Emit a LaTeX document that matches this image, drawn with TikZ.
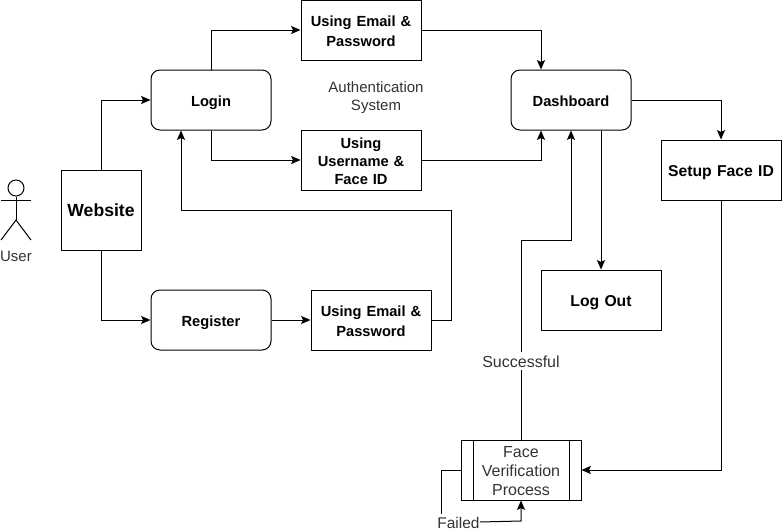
\documentclass[tikz,border=0pt]{standalone}
\usepackage{fontspec}
\setmainfont{Liberation Sans}
\usetikzlibrary{arrows.meta,calc}
\definecolor{plain}{HTML}{333333}
\newcommand{\lowstrut}{\rule[-0.15\baselineskip]{0pt}{\baselineskip}}
\tikzset{
	struts/.style={execute at begin node=\lowstrut, execute at end node=\lowstrut},
	box/.style={draw, line width=0.75pt, minimum width=90pt, minimum height=45pt, align=center, inner sep=0pt, text width=88pt, struts, font=\fontsize{11}{13.5}\selectfont\bfseries},
	roundbox/.style={box, rounded corners=6.75pt},
	plaintext/.style={inner sep=1pt, align=center, text=plain, struts, font=\fontsize{11.25}{13.5}\selectfont},
	conn/.style={line width=0.75pt, -{Stealth[length=7pt, width=6pt, inset=1.3pt]}},
	link/.style={line width=0.75pt}
}
\begin{document}
\begin{tikzpicture}[x=0.75pt, y=-0.75pt]
	\useasboundingbox (0, 0) rectangle (782, 532);
	%%%%% START %%%%%

	\node[box, minimum width=60pt, minimum height=60pt, text width=58pt, font=\fontsize{13.2}{14}\selectfont\bfseries] (website) at (101, 210) {Website};
	\node[roundbox] (login) at (211, 100) {Login};
	\node[roundbox] (register) at (211, 320) {Register};
	\node[box] (emaillogin) at (361, 30) {Using Email \&\\Password};
	\node[box] (facelogin) at (361, 160) {Using\\Username \&\\Face ID};
	\node[box] (emailregister) at (371, 320) {Using Email \&\\Password};
	\node[roundbox] (dashboard) at (571, 100) {Dashboard};
	\node[box, font=\fontsize{11.8}{14}\selectfont\bfseries] (setup) at (721, 170) {Setup Face ID};
	\node[box, font=\fontsize{11.8}{14}\selectfont\bfseries] (logout) at (601, 300) {Log Out};
	\node[box, text width=60pt, font=\fontsize{12}{14.25}\selectfont, text=plain] (verify) at (521, 470) {Face\\Verification\\Process};
	\draw[link] (473, 440) -- (473, 500);
	\draw[link] (569, 440) -- (569, 500);
	\node[plaintext] (system) at (376, 98) {Authentication\\System};

	% the user
	\node[draw, circle, line width=0.75pt, minimum size=12pt, inner sep=0pt] (head) at (16, 188) {};
	\coordinate (hip) at (16, 220);
	\draw[link] (head.south) -- (hip);
	\draw[link] (1, 200) -- (31, 200);
	\draw[link] (1, 240) -- (hip) -- (31, 240);
	\node[plaintext] (user) at (16, 255.5) {User};

	% the connectors
	\draw[conn] (website.north) |- (login.west);
	\draw[conn] (website.south) |- (register.west);
	\draw[conn] (login.north) |- (emaillogin.west);
	\draw[conn] (login.south) |- (facelogin.west);
	\draw[conn] (register.east) -- (emailregister.west);
	\draw[conn] (emaillogin.east) -| ($(dashboard.north)+(-30, 0)$);
	\draw[conn] (facelogin.east) -| ($(dashboard.south)+(-30, 0)$);
	\draw[conn] (dashboard.east) -| (setup.north);
	\draw[conn] ($(dashboard.south)+(30, 0)$) -- (logout.north);
	\draw[conn] (emailregister.east) -- (451, 320) -- (451, 210) -- (181, 210) -- ($(login.south)+(-30, 0)$);
	\draw[conn] (setup.south) |- (verify.east);
	\draw[conn] (verify.north) -- (521, 240) -- (571, 240) -- (dashboard.south);
	\node[plaintext, fill=white, inner sep=0pt, font=\fontsize{12}{14}\selectfont] (success) at (521, 361) {Successful};
	\node[plaintext, inner sep=0pt, font=\fontsize{11.6}{14}\selectfont] (failed) at (458.5, 522) {Failed};
	\draw[link] (verify.west) -- (441, 470) -- (441, 514);
	\draw[conn] (failed.east) -- (521, 521) -- (verify.south);

	%%%%% END %%%%%
\end{tikzpicture}
\end{document}
